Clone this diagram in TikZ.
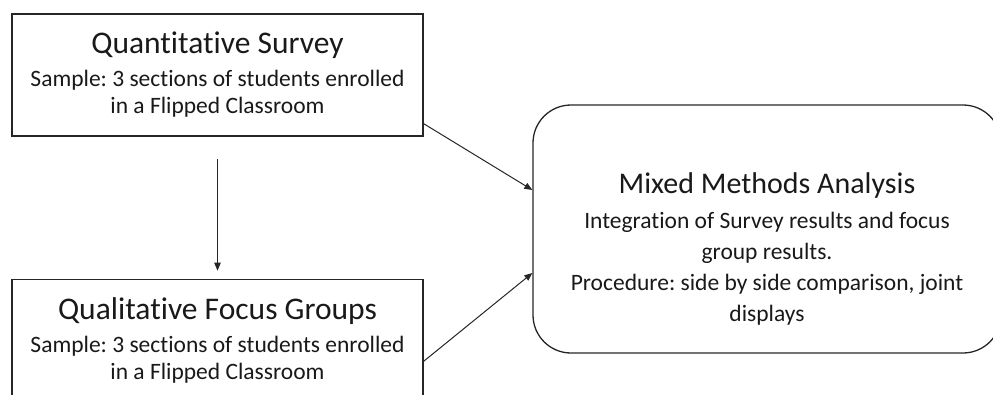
\documentclass[tikz,border=0pt]{standalone}
\usepackage{fontspec}
\setmainfont[Ligatures=NoCommon]{Carlito}
\usepackage{tikz}
\usetikzlibrary{arrows.meta,positioning}
\frenchspacing

\begin{document}
\begin{tikzpicture}[
  x=1pt, y=-1pt,
  stagebox/.style={draw=black!85, line width=1.3pt, align=center, minimum width=411pt, minimum height=122pt, inner sep=0pt, text=black!90, font=\fontsize{23.5}{27}\selectfont},
  resultbox/.style={draw=black!85, line width=1.3pt, rounded corners=38pt, minimum width=468pt, minimum height=248pt},
  resulttext/.style={align=center, inner sep=0pt, text=black!90, font=\fontsize{23.5}{31}\selectfont},
  flow/.style={-{Triangle[length=8pt, width=6.5pt]}, line width=1pt, black!85}
]
\clip (0,0) rectangle (993,394);
\node[stagebox] at (217.5,75) (survey) {{\fontsize{31.5}{34}\selectfont Quantitative Survey}\\[6pt] Sample: 3 sections of students enrolled\\ in a Flipped Classroom};
\node[stagebox, below=142pt of survey] (focus) {{\fontsize{31.5}{34}\selectfont Qualitative Focus Groups}\\[6pt] Sample: 3 sections of students enrolled\\ in a Flipped Classroom};
\node[resultbox] at (767,229) (analysis) {};
\node[resulttext] at ([yshift=-20pt]analysis.center) (analysistext) {{\fontsize{30}{33}\selectfont Mixed Methods Analysis}\\[4pt] Integration of Survey results and focus\\ group results.\\ Procedure: side by side comparison, joint\\ displays};
% connectors
\draw[flow] ([yshift=-22pt]survey.south) -- ([yshift=8pt]focus.north);
\draw[flow] ([yshift=13pt]survey.south east) -- ([yshift=39pt]analysis.west);
\draw[flow] ([yshift=-21pt]focus.east) -- ([yshift=-44pt]analysis.west);
\end{tikzpicture}
\end{document}
